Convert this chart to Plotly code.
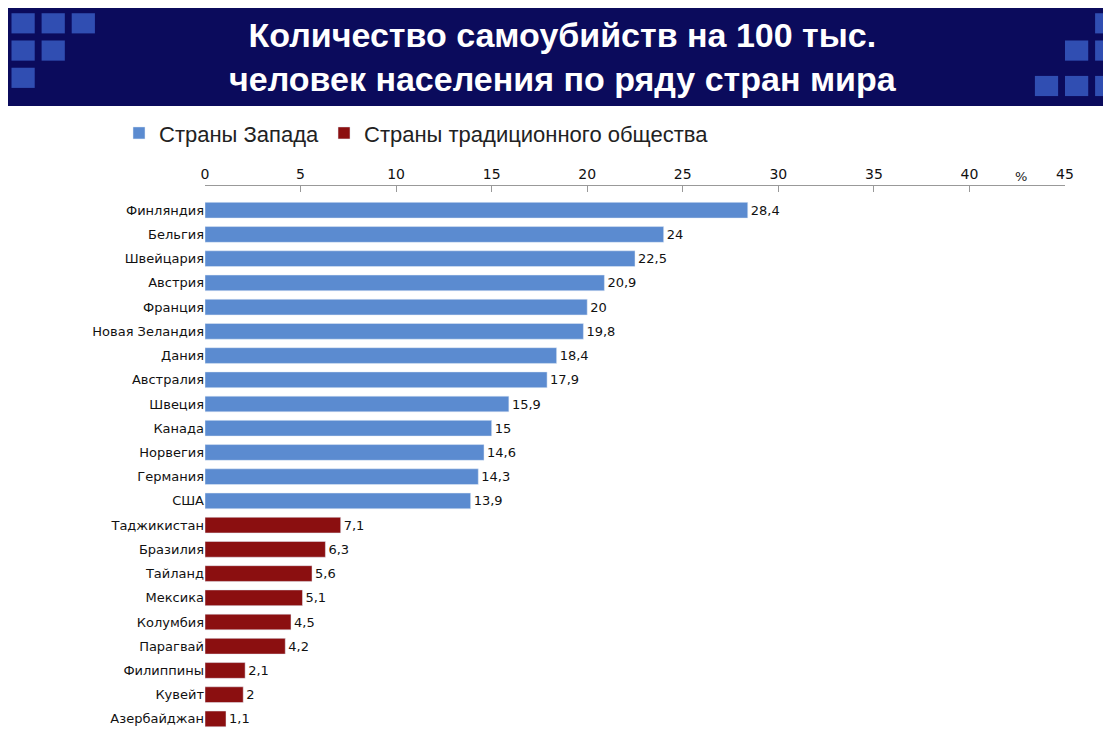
import plotly.graph_objects as go

west_countries = ["Финляндия", "Бельгия", "Швейцария", "Австрия", "Франция", "Новая Зеландия",
                  "Дания", "Австралия", "Швеция", "Канада", "Норвегия", "Германия", "США"]
west_values = [28.4, 24, 22.5, 20.9, 20, 19.8, 18.4, 17.9, 15.9, 15, 14.6, 14.3, 13.9]
trad_countries = ["Таджикистан", "Бразилия", "Тайланд", "Мексика", "Колумбия", "Парагвай",
                  "Филиппины", "Кувейт", "Азербайджан"]
trad_values = [7.1, 6.3, 5.6, 5.1, 4.5, 4.2, 2.1, 2, 1.1]


def fmt(v):
    return ("%g" % v).replace(".", ",")


fig = go.Figure()
fig.add_trace(go.Bar(y=west_countries, x=west_values, orientation="h", name="Страны Запада",
                     marker_color="#5b8bd0", text=[fmt(v) for v in west_values],
                     textposition="outside", cliponaxis=False))
fig.add_trace(go.Bar(y=trad_countries, x=trad_values, orientation="h",
                     name="Страны традиционного общества",
                     marker_color="#8b0f10", text=[fmt(v) for v in trad_values],
                     textposition="outside", cliponaxis=False))

# header band (paper coords: plot area is 860 x 545 px, origin at 197,723)
fig.add_shape(type="rect", xref="paper", yref="paper", x0=-0.23, x1=1.07, y0=1.147, y1=1.34,
              fillcolor="#0b0b5c", line_width=0, layer="below")
squares = [(-0.225, 1.28), (-0.19, 1.28), (-0.155, 1.28), (-0.225, 1.23), (-0.19, 1.23),
           (-0.225, 1.18), (1.035, 1.28), (1.035, 1.23), (1.0, 1.23), (1.035, 1.165),
           (1.0, 1.165), (0.965, 1.165)]
for x0, y0 in squares:
    fig.add_shape(type="rect", xref="paper", yref="paper", x0=x0, x1=x0 + 0.027,
                  y0=y0, y1=y0 + 0.037, fillcolor="#3a5fc8", line_width=0, opacity=0.8)
fig.add_annotation(xref="paper", yref="paper", x=0.416, y=1.237, yanchor="middle",
                   showarrow=False,
                   text="<b>Количество самоубийств на 100 тыс.<br>человек населения по ряду стран мира</b>",
                   font=dict(family="Liberation Sans", size=34, color="white"))
fig.add_annotation(xref="x", yref="paper", x=42.7, y=1.0, yanchor="bottom", showarrow=False,
                   text="%", font=dict(size=13, color="#222"))

fig.update_layout(
    width=1111, height=742, barmode="overlay", bargap=0.35,
    margin=dict(l=197, r=54, t=178, b=19),
    paper_bgcolor="white", plot_bgcolor="white",
    font=dict(family="DejaVu Sans", size=13, color="#111"),
    legend=dict(orientation="h", x=-0.1, y=1.097, yanchor="middle", xanchor="left",
                bgcolor="rgba(0,0,0,0)",
                font=dict(family="Liberation Sans", size=22, color="#222")),
    xaxis=dict(range=[0, 45], side="top", dtick=5, showgrid=False, showline=True,
               linecolor="#999", ticks="inside", ticklen=6, tickcolor="#999",
               tickfont=dict(size=14), zeroline=False),
    yaxis=dict(categoryorder="array", categoryarray=west_countries + trad_countries,
               autorange=False, range=[21.5, -1.0], showgrid=False,
               tickfont=dict(size=13), ticks="", showline=False),
)
fig.write_html("out.html")
